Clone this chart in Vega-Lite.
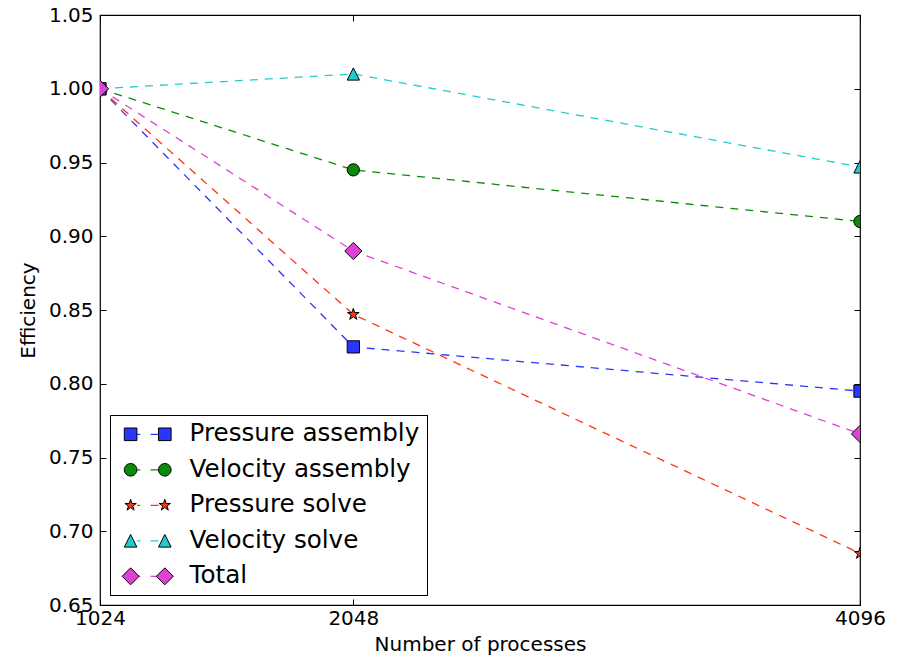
{
  "$schema": "https://vega.github.io/schema/vega-lite/v6.json",
  "width": 760,
  "height": 590,
  "autosize": "none",
  "padding": {"left": 100, "top": 15, "right": 41, "bottom": 52},
  "background": "white",
  "config": {
    "font": "DejaVu Sans",
    "view": {"stroke": "black", "strokeWidth": 1.2},
    "axis": {"grid": false, "domain": false, "tickColor": "black", "tickWidth": 1, "labelColor": "black", "titleColor": "black", "labelFontSize": 20, "titleFontSize": 20, "titleFontWeight": "normal", "labelFont": "DejaVu Sans", "titleFont": "DejaVu Sans", "labelFlush": false},
    "legend": {"labelFont": "DejaVu Sans", "labelLimit": 0}
  },
  "data": {
    "values": [
      {"series": "Pressure assembly", "n": 1024, "eff": 1.0},
      {"series": "Pressure assembly", "n": 2048, "eff": 0.825},
      {"series": "Pressure assembly", "n": 4096, "eff": 0.795},
      {"series": "Velocity assembly", "n": 1024, "eff": 1.0},
      {"series": "Velocity assembly", "n": 2048, "eff": 0.945},
      {"series": "Velocity assembly", "n": 4096, "eff": 0.910},
      {"series": "Pressure solve", "n": 1024, "eff": 1.0},
      {"series": "Pressure solve", "n": 2048, "eff": 0.847},
      {"series": "Pressure solve", "n": 4096, "eff": 0.685},
      {"series": "Velocity solve", "n": 1024, "eff": 1.0},
      {"series": "Velocity solve", "n": 2048, "eff": 1.010},
      {"series": "Velocity solve", "n": 4096, "eff": 0.947},
      {"series": "Total", "n": 1024, "eff": 1.0},
      {"series": "Total", "n": 2048, "eff": 0.890},
      {"series": "Total", "n": 4096, "eff": 0.766}
    ]
  },
  "layer": [
    {
      "mark": {"type": "line", "clip": true, "strokeDash": [8, 7], "strokeWidth": 1.3},
      "encoding": {
        "x": {"field": "n", "type": "quantitative", "scale": {"domain": [1024, 4096], "nice": false, "zero": false},
              "axis": {"orient": "bottom", "values": [1024, 2048, 4096], "format": "d", "tickSize": -6, "labelPadding": 9, "title": "Number of processes", "titlePadding": 6}},
        "y": {"field": "eff", "type": "quantitative", "scale": {"domain": [0.65, 1.05], "nice": false, "zero": false},
              "axis": {"orient": "left", "values": [0.65, 0.7, 0.75, 0.8, 0.85, 0.9, 0.95, 1.0, 1.05], "format": ".2f", "tickSize": -6, "labelPadding": 13, "title": "Efficiency", "titlePadding": 10}},
        "color": {"field": "series", "type": "nominal",
                  "scale": {"domain": ["Pressure assembly", "Velocity assembly", "Pressure solve", "Velocity solve", "Total"], "range": ["#2a36ff", "#0a8a0a", "#ff3311", "#22cccc", "#e040d8"]},
                  "legend": {"orient": "none", "legendX": 10, "legendY": 400, "title": null, "symbolType": "M0.76,0H1.1M2.13,0H2.92", "symbolSize": 400, "symbolStrokeWidth": 1.3, "symbolDash": [], "labelOpacity": 0, "labelFontSize": 24.6, "labelOffset": 48, "padding": 7, "rowPadding": 10.5, "strokeColor": "black", "fillColor": "white", "cornerRadius": 0}}
      }
    },
    {
      "mark": {"type": "point", "filled": true, "clip": true, "size": 150, "stroke": "black", "strokeWidth": 1, "opacity": 1},
      "encoding": {
        "x": {"field": "n", "type": "quantitative", "axis": {"orient": "top", "values": [1024, 2048, 4096], "labels": false, "title": null, "tickSize": -6}},
        "y": {"field": "eff", "type": "quantitative", "axis": {"orient": "right", "values": [0.65, 0.7, 0.75, 0.8, 0.85, 0.9, 0.95, 1.0, 1.05], "labels": false, "title": null, "tickSize": -6}},
        "color": {"field": "series", "type": "nominal",
                  "scale": {"domain": ["Pressure assembly", "Velocity assembly", "Pressure solve", "Velocity solve", "Total"], "range": ["#2a36ff", "#0a8a0a", "#ff3311", "#22cccc", "#e040d8"]},
                  "legend": null},
        "shape": {"field": "series", "type": "nominal",
                  "scale": {"domain": ["Pressure assembly", "Velocity assembly", "Pressure solve", "Velocity solve", "Total"],
                            "range": ["M-1,-1H1V1H-1Z", "circle", "M0,-1L0.225,-0.309L0.951,-0.309L0.363,0.118L0.588,0.809L0,0.382L-0.588,0.809L-0.363,0.118L-0.951,-0.309L-0.225,-0.309Z", "M0,-1L1,1L-1,1Z", "M0,-1.4L1.4,0L0,1.4L-1.4,0Z"]},
                  "legend": null}
      }
    },
    {
      "mark": {"type": "point", "filled": true, "opacity": 0, "stroke": "black", "strokeWidth": 1},
      "encoding": {
        "x": {"field": "n", "type": "quantitative", "axis": null},
        "y": {"field": "eff", "type": "quantitative", "axis": null},
        "color": {"field": "series", "type": "nominal",
                  "scale": {"domain": ["Pressure assembly", "Velocity assembly", "Pressure solve", "Velocity solve", "Total"], "range": ["#2a36ff", "#0a8a0a", "#ff3311", "#22cccc", "#e040d8"]},
                  "legend": {"orient": "none", "legendX": 10, "legendY": 400, "title": null, "symbolSize": 400, "symbolStrokeWidth": 1, "symbolOpacity": 1, "labelFontSize": 24.6, "labelOffset": 48, "padding": 7, "rowPadding": 10.5, "strokeColor": "black", "cornerRadius": 0}},
        "shape": {"field": "series", "type": "nominal",
                  "scale": {"domain": ["Pressure assembly", "Velocity assembly", "Pressure solve", "Velocity solve", "Total"],
                            "range": [
                              "M-0.5,-0.63H0.76V0.63H-0.5ZM2.92,-0.63H4.18V0.63H2.92Z",
                              "M0.76,0A0.63,0.63,0,1,1,-0.5,0A0.63,0.63,0,1,1,0.76,0ZM4.18,0A0.63,0.63,0,1,1,2.92,0A0.63,0.63,0,1,1,4.18,0Z",
                              "M0.13,-0.6L0.265,-0.185L0.701,-0.185L0.348,0.071L0.483,0.485L0.13,0.229L-0.223,0.485L-0.088,0.071L-0.441,-0.185L-0.005,-0.185ZM3.55,-0.6L3.685,-0.185L4.121,-0.185L3.768,0.071L3.903,0.485L3.55,0.229L3.197,0.485L3.332,0.071L2.979,-0.185L3.415,-0.185Z",
                              "M0.13,-0.63L0.76,0.63L-0.5,0.63ZM3.55,-0.63L4.18,0.63L2.92,0.63Z",
                              "M0.13,-0.85L0.98,0L0.13,0.85L-0.72,0ZM3.55,-0.85L4.4,0L3.55,0.85L2.7,0Z"
                            ]},
                  "legend": {"orient": "none", "legendX": 10, "legendY": 400, "title": null, "symbolSize": 400, "symbolStrokeWidth": 1, "symbolOpacity": 1, "labelFontSize": 24.6, "labelOffset": 48, "padding": 7, "rowPadding": 10.5, "strokeColor": "black", "cornerRadius": 0}}
      }
    }
  ],
  "resolve": {
    "scale": {"color": "independent", "shape": "independent"},
    "axis": {"x": "independent", "y": "independent"}
  }
}
